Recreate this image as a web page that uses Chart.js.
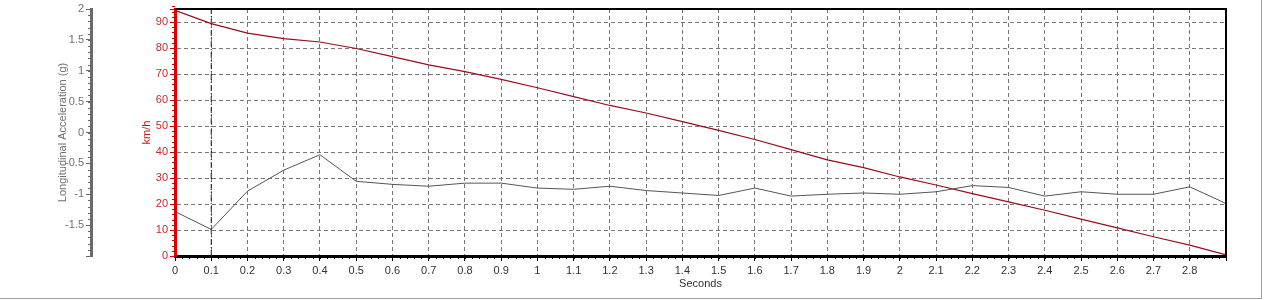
<!DOCTYPE html>
<html>
<head>
<meta charset="utf-8">
<title>Seconds / km/h / Longitudinal Acceleration</title>
<script src="https://cdn.jsdelivr.net/npm/chart.js@4/dist/chart.umd.min.js"></script>
<style>
  html, body { margin: 0; padding: 0; background: #fff; }
  #wrap {
    width: 1261px; height: 298px;
    border-right: 1px solid #a0a0a0;
    border-bottom: 1px solid #a0a0a0;
    position: relative;
  }
</style>
</head>
<body>
<div id="wrap"><canvas id="c"></canvas></div>
<script>
/* ---- DATA --------------------------------------------------- */
const SECONDS = [0, 0.1, 0.2, 0.3, 0.4, 0.5, 0.6, 0.7, 0.8, 0.9,
                 1.0, 1.1, 1.2, 1.3, 1.4, 1.5, 1.6, 1.7, 1.8, 1.9,
                 2.0, 2.1, 2.2, 2.3, 2.4, 2.5, 2.6, 2.7, 2.8, 2.9];
const SPEED_KMH = [94.5, 89.4, 85.7, 83.6, 82.3, 79.8, 76.7, 73.5, 70.9, 67.9,
                   64.7, 61.3, 57.9, 55.0, 51.7, 48.3, 44.8, 40.9, 37.0, 34.0,
                   30.4, 27.3, 24.0, 20.8, 17.6, 14.2, 10.8, 7.4, 4.2, 0.4];
const ACCEL_G = [-1.28, -1.57, -0.95, -0.61, -0.36, -0.79, -0.84, -0.87, -0.82, -0.82,
                 -0.90, -0.92, -0.87, -0.94, -0.98, -1.02, -0.90, -1.03, -1.00, -0.98,
                 -1.00, -0.96, -0.86, -0.89, -1.03, -0.96, -1.00, -1.00, -0.88, -1.15];
const CURSOR_X = 0.1;

const X_RANGE = [0, 2.9];
const SPEED_RANGE = [0, 95];
const ACCEL_RANGE = [-2, 2];

/* ---- HELPERS ------------------------------------------------ */
const FONT = { family: '"Liberation Sans", Arial, sans-serif', size: 11 };
const fmt = v => String(Math.round(v * 10) / 10);

// short unlabeled tick marks between the major ones
const MINOR = [
  { axis: 'x',  step: 0.02, len: 3, color: '#000' },
  { axis: 'y',  step: 2,    len: 3, color: '#d00000' },
  { axis: 'y2', step: 0.1,  len: 3, color: '#6a6a6a' }
];

const minorTicks = {
  id: 'minorTicks',
  afterDraw(chart) {
    const ctx = chart.ctx;
    MINOR.forEach(m => {
      const s = chart.scales[m.axis];
      const n = Math.round((s.max - s.min) / m.step);
      ctx.save();
      ctx.strokeStyle = m.color;
      ctx.lineWidth = 1;
      ctx.beginPath();
      for (let i = 0; i <= n; i++) {
        const p = Math.round(s.getPixelForValue(s.min + i * m.step)) + 0.5;
        if (s.isHorizontal()) { ctx.moveTo(p, s.top); ctx.lineTo(p, s.top + m.len); }
        else { ctx.moveTo(s.right - m.len, p); ctx.lineTo(s.right, p); }
      }
      ctx.stroke();
      ctx.restore();
    });
  }
};

// black frame on top and right of the plot area
const plotFrame = {
  id: 'plotFrame',
  afterDatasetsDraw(chart) {
    const { ctx, chartArea: a } = chart;
    ctx.save();
    ctx.strokeStyle = '#000';
    ctx.lineWidth = 2;
    ctx.beginPath();
    ctx.moveTo(a.left, a.top);
    ctx.lineTo(a.right, a.top);
    ctx.lineTo(a.right, a.bottom);
    ctx.stroke();
    ctx.restore();
  }
};

/* ---- CHART -------------------------------------------------- */
new Chart(document.getElementById('c'), {
  type: 'line',
  data: {
    datasets: [
      {
        label: 'Longitudinal Acceleration (g)',
        data: SECONDS.map((s, i) => ({ x: s, y: ACCEL_G[i] })),
        yAxisID: 'y2',
        borderColor: '#555',
        borderWidth: 1,
        pointRadius: 0,
        tension: 0
      },
      {
        label: 'km/h',
        data: SECONDS.map((s, i) => ({ x: s, y: SPEED_KMH[i] })),
        yAxisID: 'y',
        borderColor: '#9a0c1c',
        borderWidth: 1.2,
        pointRadius: 0,
        tension: 0
      },
      {
        label: 'cursor',
        data: [{ x: CURSOR_X, y: SPEED_RANGE[0] }, { x: CURSOR_X, y: SPEED_RANGE[1] }],
        yAxisID: 'y',
        borderColor: '#222',
        borderWidth: 1,
        borderDash: [6, 2, 1, 2],
        pointRadius: 0
      }
    ]
  },
  options: {
    responsive: true,
    maintainAspectRatio: false,
    animation: false,
    layout: { padding: { top: 9, right: 35, left: 0, bottom: 0 } },
    plugins: { legend: { display: false }, tooltip: { enabled: false } },
    scales: {
      x: {
        type: 'linear',
        min: X_RANGE[0],
        max: X_RANGE[1],
        position: 'bottom',
        afterFit: s => { s.height = 42; },
        ticks: {
          stepSize: 0.1,
          autoSkip: false,
          maxRotation: 0,
          padding: 3,
          color: '#333',
          font: FONT,
          callback: v => (v > 2.85 ? '' : fmt(v))
        },
        grid: { color: '#777', tickColor: '#000', tickLength: 5 },
        border: { display: true, color: '#000', width: 3, dash: [4, 3] },
        title: { display: true, text: 'Seconds', color: '#333', font: FONT, padding: { top: 0, bottom: 7 } }
      },
      y: {
        type: 'linear',
        min: SPEED_RANGE[0],
        max: SPEED_RANGE[1],
        position: 'left',
        weight: 0,
        afterFit: s => { s.width = 84; },
        ticks: {
          stepSize: 10,
          padding: 2,
          color: '#c82828',
          font: FONT,
          callback: v => (v > 90 ? '' : fmt(v))
        },
        grid: { color: '#777', tickColor: '#d00000', tickLength: 5 },
        border: { display: true, color: '#dd0000', width: 3, dash: [4, 3] },
        title: { display: true, text: 'km/h', color: '#c01818', font: FONT, padding: { top: 49, bottom: 0 } }
      },
      y2: {
        type: 'linear',
        min: ACCEL_RANGE[0],
        max: ACCEL_RANGE[1],
        position: 'left',
        weight: 1,
        afterFit: s => { s.width = 91; },
        ticks: {
          stepSize: 0.5,
          padding: 2,
          color: '#707070',
          font: FONT,
          callback: v => (v < -1.9 ? '' : fmt(v))
        },
        grid: { drawOnChartArea: false, tickColor: '#6a6a6a', tickLength: 5 },
        border: { display: true, color: '#6a6a6a', width: 3 },
        title: { display: true, text: 'Longitudinal Acceleration (g)', color: '#707070', font: FONT, padding: { top: 56, bottom: 0 } }
      }
    }
  },
  plugins: [minorTicks, plotFrame]
});
</script>
</body>
</html>
